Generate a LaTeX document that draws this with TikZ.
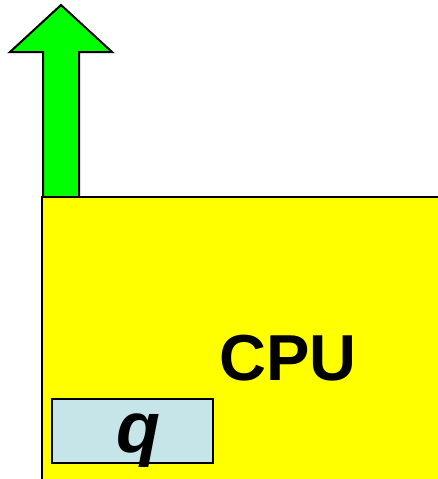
\documentclass[tikz,border=0pt]{standalone}
\usepackage{fontspec}
\setmainfont{Liberation Sans}
\definecolor{arrowgreen}{HTML}{00FF00}
\definecolor{cpuyellow}{HTML}{FFFF00}
\definecolor{qblue}{HTML}{C6E5E8}
\begin{document}
\begin{tikzpicture}[x=1pt,y=-1pt,
  outl/.style={draw=black,line width=2pt,line join=miter},
  cpubox/.style={outl,fill=cpuyellow},
  regbox/.style={draw=black,line width=1.2pt,fill=qblue,inner sep=0pt,outer sep=0pt,minimum width=161pt,minimum height=64pt}]
\useasboundingbox (0,0) rectangle (437,479);
\draw[outl,fill=arrowgreen] (43,198) -- (43,52) -- (10,52) -- (61,5) -- (112,52) -- (79,52) -- (79,198);
\draw[cpubox] (42,481) -- (42,197) -- (442,197) -- (442,481) -- cycle;
\node[regbox] (qbox) at (132.5,431) {};
\node[font=\fontsize{72}{72}\selectfont\bfseries\itshape,inner sep=0pt,anchor=base] (qt) at (138,452) {q};
\node[font=\fontsize{65}{65}\selectfont\bfseries,inner sep=0pt,anchor=base] (cpu) at (288,380) {CPU};
\end{tikzpicture}
\end{document}
